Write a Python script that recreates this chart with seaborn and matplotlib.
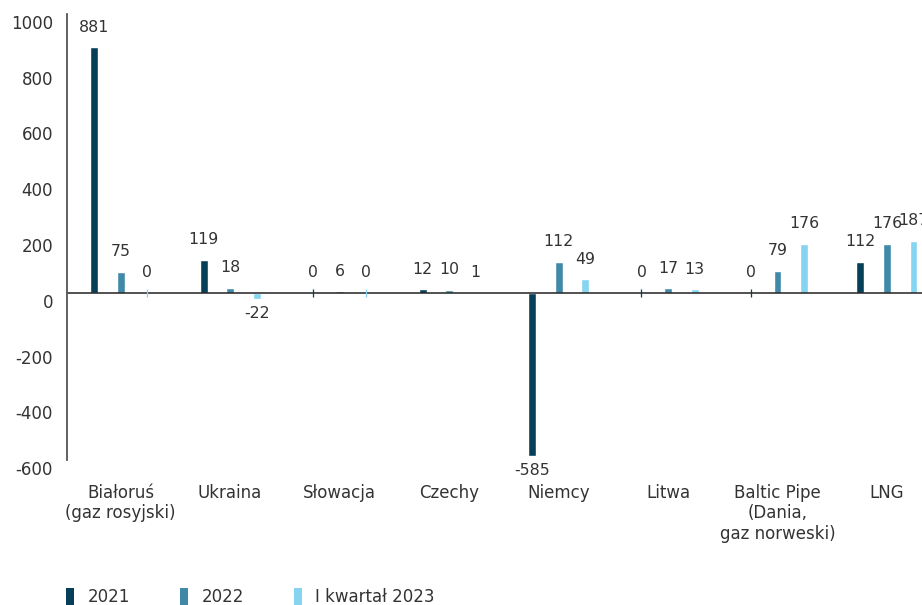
import matplotlib
matplotlib.use("Agg")
import matplotlib.pyplot as plt
import matplotlib.transforms as mtransforms
from matplotlib.patches import Patch
import seaborn as sns
import pandas as pd

categories = ["Białoruś\n(gaz rosyjski)", "Ukraina", "Słowacja", "Czechy", "Niemcy",
              "Litwa", "Baltic Pipe\n(Dania,\ngaz norweski)", "LNG"]
series_names = ["2021", "2022", "I kwartał 2023"]
values_2021 = [881, 119, 0, 12, -585, 0, 0, 112]
values_2022 = [75, 18, 6, 10, 112, 17, 79, 176]
values_2023 = [0, -22, 0, 1, 49, 13, 176, 187]
yticks = [-600, -400, -200, 0, 200, 400, 600, 800, 1000]
colors = ["#073f58", "#4189a8", "#85d4f0"]

sns.set_theme(style="white")
plt.rcParams["font.family"] = ["DejaVu Sans"]

rows = []
for name, vals in zip(series_names, [values_2021, values_2022, values_2023]):
    for c, v in zip(categories, vals):
        rows.append({"kraj": c, "seria": name, "wartosc": v})
df = pd.DataFrame(rows)

fs = 12
fs_bar = 11.3
fig = plt.figure(figsize=(9.22, 6.05), dpi=100)
ax = fig.add_axes([67 / 922, 1 - 460 / 605, 1 - 67 / 922, (460 - 14) / 605])

sns.barplot(data=df, x="kraj", y="wartosc", hue="seria", order=categories,
            hue_order=series_names, palette=colors, width=0.727, gap=0.7,
            saturation=1, legend=False, ax=ax, errorbar=None)

txtcol = "#333333"
for cont, vals, col in zip(ax.containers, [values_2021, values_2022, values_2023], colors):
    pos_labels = [str(v) if v >= 0 else "" for v in vals]
    neg_labels = [str(v) if v < 0 else "" for v in vals]
    ax.bar_label(cont, labels=pos_labels, padding=9, fontsize=fs_bar, color=txtcol)
    ax.bar_label(cont, labels=neg_labels, padding=5, fontsize=fs_bar, color=txtcol)
    xs = [p.get_x() + p.get_width() / 2 for p in cont.patches]
    zx = [x for x, v in zip(xs, vals) if v == 0]
    ax.scatter(zx, [0] * len(zx), marker="|", s=40, color=col, linewidths=0.9, zorder=3)

ax.axhline(0, color="#222222", lw=1.1, zorder=2)
ax.set_ylim(-600, 1000)
ax.set_xlim(-0.49, 7.32)
ax.set_yticks(yticks)
ax.set_yticklabels([str(t) for t in yticks], fontsize=fs, color=txtcol)
ax.tick_params(axis="y", length=0, pad=10)
ax.tick_params(axis="x", length=0, pad=17, labelsize=fs, labelcolor=txtcol)
ax.set_xlabel("")
ax.set_ylabel("")
for s in ["top", "right", "bottom"]:
    ax.spines[s].set_visible(False)
ax.spines["left"].set_color("#555555")
ax.spines["left"].set_linewidth(1.3)

off = mtransforms.ScaledTranslation(0, -0.08, fig.dpi_scale_trans)
for lab in ax.get_yticklabels():
    lab.set_transform(lab.get_transform() + off)

handles = [Patch(facecolor=c, edgecolor="none") for c in colors]
fig.legend(handles, series_names, loc="lower left", bbox_to_anchor=(0.055, -0.026),
           ncol=3, frameon=False, fontsize=fs, handlelength=0.5, handleheight=1.2,
           handletextpad=0.8, columnspacing=3.0, labelcolor=txtcol)

fig.savefig("out.png", dpi=100)
